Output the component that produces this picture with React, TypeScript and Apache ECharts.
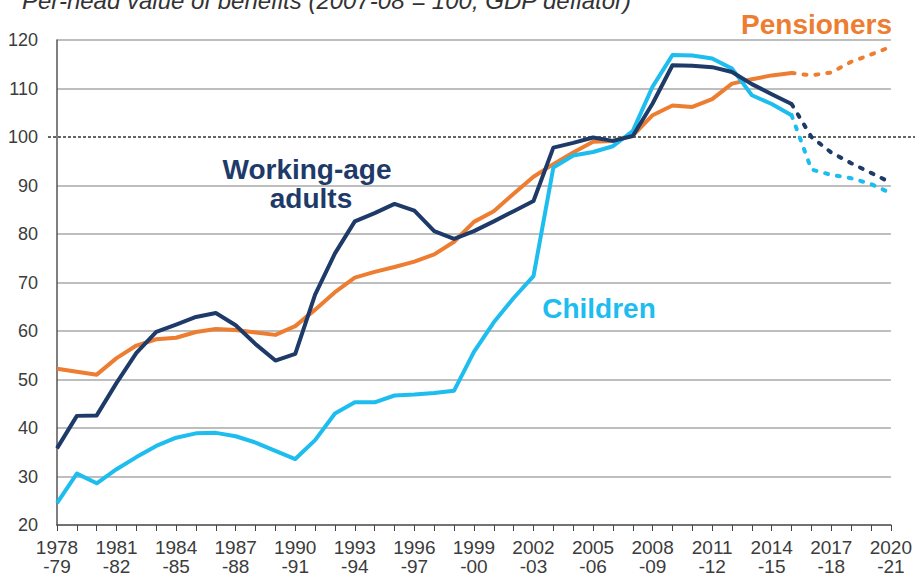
import React, { useEffect, useRef } from "react";
import * as echarts from "echarts";

const categories = [
  "1978\n-79", "1979\n-80", "1980\n-81", "1981\n-82", "1982\n-83", "1983\n-84", "1984\n-85",
  "1985\n-86", "1986\n-87", "1987\n-88", "1988\n-89", "1989\n-90", "1990\n-91", "1991\n-92",
  "1992\n-93", "1993\n-94", "1994\n-95", "1995\n-96", "1996\n-97", "1997\n-98", "1998\n-99",
  "1999\n-00", "2000\n-01", "2001\n-02", "2002\n-03", "2003\n-04", "2004\n-05", "2005\n-06",
  "2006\n-07", "2007\n-08", "2008\n-09", "2009\n-10", "2010\n-11", "2011\n-12", "2012\n-13",
  "2013\n-14", "2014\n-15", "2015\n-16", "2016\n-17", "2017\n-18", "2018\n-19", "2019\n-20",
  "2020\n-21",
];

// Outturn 1978-79 .. 2015-16
const pensionersActual = [
  52.2, 51.6, 51.0, 54.4, 57.0, 58.3, 58.6, 59.8, 60.4, 60.2, 59.7, 59.2, 61.0, 64.4,
  68.0, 71.0, 72.2, 73.2, 74.3, 75.8, 78.4, 82.5, 84.7, 88.3, 91.8, 94.4, 96.8, 99.0,
  99.2, 100.3, 104.5, 106.5, 106.2, 107.8, 111.0, 111.9, 112.7, 113.2,
];
const workingAgeActual = [
  35.8, 42.5, 42.6, 49.3, 55.5, 59.8, 61.3, 62.9, 63.7, 61.2, 57.3, 53.9, 55.3, 67.5,
  76.0, 82.6, 84.3, 86.2, 84.8, 80.6, 79.0, 80.6, 82.6, 84.7, 86.8, 97.8, 98.8, 99.9,
  99.2, 100.2, 106.9, 114.8, 114.7, 114.4, 113.4, 110.9, 108.8, 106.8,
];
const childrenActual = [
  24.5, 30.6, 28.6, 31.5, 34.0, 36.3, 38.0, 38.9, 39.0, 38.3, 37.0, 35.3, 33.6, 37.5,
  43.0, 45.3, 45.3, 46.7, 46.9, 47.2, 47.7, 55.7, 61.8, 66.8, 71.3, 93.7, 96.2, 96.9,
  98.1, 101.2, 110.4, 116.9, 116.8, 116.2, 114.1, 108.6, 106.8, 104.5,
];

// Forecast 2016-17 .. 2020-21
const pensionersForecast = [112.7, 113.3, 115.5, 117.0, 118.6];
const workingAgeForecast = [100.0, 96.8, 94.6, 92.6, 90.6];
const childrenForecast = [93.3, 92.2, 91.5, 90.3, 88.4];

const yTicks = { min: 20, max: 120, interval: 10 };
const referenceValue = 100;

const ORANGE = "#ED7D31";
const NAVY = "#1E3A68";
const CYAN = "#1DBDEF";
const FONT = "'Liberation Sans', Arial, Helvetica, sans-serif";

function solidPart(actual: number[], forecast: number[]) {
  return [...actual, ...forecast.map(() => null)];
}
function dottedPart(actual: number[], forecast: number[]) {
  return [...actual.map((v, i) => (i === actual.length - 1 ? v : null)), ...forecast];
}

function lineSeries(name: string, data: (number | null)[], color: string, dotted: boolean, z: number) {
  return {
    name,
    type: "line",
    data,
    symbol: "none",
    connectNulls: false,
    z,
    lineStyle: {
      color,
      width: 4,
      type: dotted ? [3, 9] : "solid",
      cap: dotted ? "round" : "butt",
      join: "round",
    },
  };
}

export default function App() {
  const ref = useRef<HTMLDivElement>(null);
  useEffect(() => {
    if (!ref.current) return;
    const chart = echarts.init(ref.current, undefined, { renderer: "svg" });
    const splitColors = Array.from(
      { length: (yTicks.max - yTicks.min) / yTicks.interval + 1 },
      (_, i) => {
        const v = yTicks.min + i * yTicks.interval;
        return v === referenceValue || v === yTicks.min ? "transparent" : "#a8a8a8";
      }
    );
    chart.setOption({
      animation: false,
      grid: { left: 57, right: 23, top: 40, bottom: 53, containLabel: false },
      xAxis: {
        type: "category",
        data: categories,
        boundaryGap: false,
        axisLine: { lineStyle: { color: "#444", width: 1.5 } },
        axisTick: { show: true, interval: 0, length: 6, lineStyle: { color: "#444", width: 1 } },
        axisLabel: {
          interval: 2,
          fontSize: 19,
          lineHeight: 19,
          color: "#3c3c3c",
          fontFamily: FONT,
          margin: 13,
        },
        splitLine: { show: false },
      },
      yAxis: {
        type: "value",
        min: yTicks.min,
        max: yTicks.max,
        interval: yTicks.interval,
        axisLine: { show: true, lineStyle: { color: "#555", width: 1.5 } },
        axisTick: { show: false },
        axisLabel: { fontSize: 18, color: "#3c3c3c", fontFamily: FONT, margin: 19 },
        splitLine: { show: true, lineStyle: { color: splitColors, width: 1.5 } },
      },
      series: [
        lineSeries("Pensioners", solidPart(pensionersActual, pensionersForecast), ORANGE, false, 2),
        lineSeries("Pensioners forecast", dottedPart(pensionersActual, pensionersForecast), ORANGE, true, 2),
        lineSeries("Children", solidPart(childrenActual, childrenForecast), CYAN, false, 3),
        lineSeries("Children forecast", dottedPart(childrenActual, childrenForecast), CYAN, true, 3),
        lineSeries("Working-age adults", solidPart(workingAgeActual, workingAgeForecast), NAVY, false, 4),
        lineSeries("Working-age forecast", dottedPart(workingAgeActual, workingAgeForecast), NAVY, true, 4),
      ],
    });
    const refY = chart.convertToPixel({ yAxisIndex: 0 }, referenceValue) as number;
    const label = (text: string, x: number, y: number, fill: string, align: string) => ({
      type: "text",
      x,
      y,
      style: {
        text,
        fontSize: 28,
        fontWeight: "bold",
        fontFamily: FONT,
        fill,
        align,
        verticalAlign: "bottom",
      },
    });
    chart.setOption({
      graphic: [
        {
          type: "line",
          z: 1,
          silent: true,
          shape: { x1: 48, y1: refY, x2: 915, y2: refY },
          style: { stroke: "#333", lineWidth: 1.3, lineDash: [3, 2] },
        },
        {
          type: "text",
          left: 22,
          top: -12,
          style: {
            text: "Per-head value of benefits (2007-08 = 100, GDP deflator)",
            fontSize: 24,
            fontStyle: "italic",
            fontFamily: FONT,
            fill: "#333",
          },
        },
        label("Pensioners", 892, 38, ORANGE, "right"),
        label("Working-age", 307, 183, NAVY, "center"),
        label("adults", 311, 212, NAVY, "center"),
        label("Children", 599, 322, CYAN, "center"),
      ],
    });
    return () => chart.dispose();
  }, []);
  return (
    <div
      ref={ref}
      style={{ position: "absolute", left: 0, top: 0, width: 915, height: 578 }}
    />
  );
}
